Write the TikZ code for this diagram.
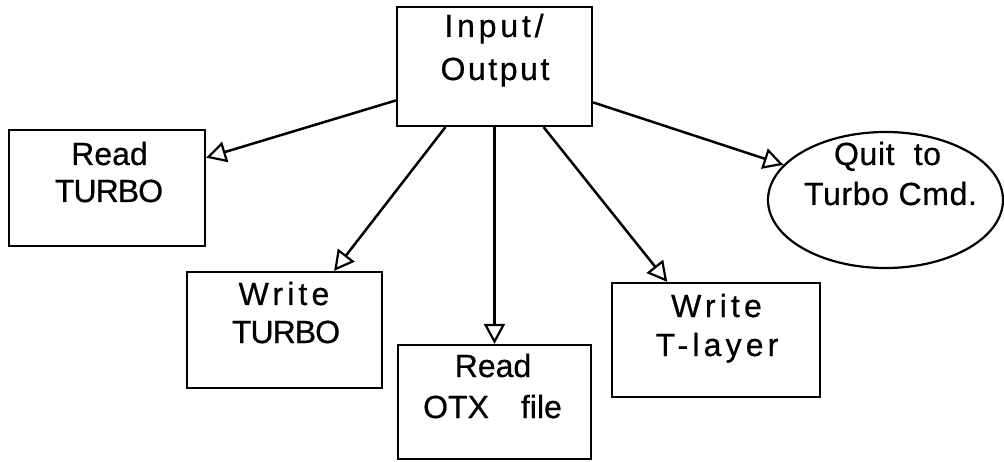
\documentclass[tikz,border=0pt]{standalone}
\usepackage{fontspec}
\setmainfont{Liberation Sans}[FakeBold=0.6]
\usetikzlibrary{arrows.meta,shapes.geometric}

\tikzset{
  box/.style={draw, line width=2.2pt, inner sep=0pt, rectangle},
  oval/.style={draw, line width=2.2pt, inner sep=0pt, ellipse},
  txt/.style={anchor=base, inner sep=0pt, font=\fontsize{32}{38}\selectfont},
  con/.style={line width=2.5pt, -{Triangle[open, length=20pt, width=21pt, line width=2.2pt]}},
}

\begin{document}
\begin{tikzpicture}[x=1pt, y=-1pt]
  \useasboundingbox (0,0) rectangle (1004,462);

  % boxes
  \node[box, minimum width=195pt, minimum height=119pt] (io) at (494.5,66.5) {};
  \node[box, minimum width=196pt, minimum height=116pt] (rt) at (107,188) {};
  \node[box, minimum width=195pt, minimum height=116pt] (wt) at (284.5,330) {};
  \node[box, minimum width=193pt, minimum height=114pt] (ro) at (494.5,402) {};
  \node[box, minimum width=208pt, minimum height=114pt] (wl) at (716,340) {};
  \node[oval, minimum width=235pt, minimum height=136pt] (qt) at (885.5,200) {};

  % labels
  \node[txt] (io1) at (494,37) {\addfontfeature{LetterSpace=12}Input/};
  \node[txt] (io2) at (495,80) {\addfontfeature{LetterSpace=8}Output};

  \node[txt] (rt1) at (109.5,165) {Read};
  \node[txt] (rt2) at (109,202) {\addfontfeature{LetterSpace=-3}TURBO};

  \node[txt] (wt1) at (284,305) {\addfontfeature{LetterSpace=13}Write};
  \node[txt] (wt2) at (286,343) {\addfontfeature{LetterSpace=-3}TURBO};

  \node[txt] (ro1) at (493,377) {Read};
  \node[txt] (ro2) at (492.5,418) {OTX\hspace{1em}file};

  \node[txt] (wl1) at (716.5,317) {\addfontfeature{LetterSpace=13}Write};
  \node[txt] (wl2) at (717,356) {\addfontfeature{LetterSpace=13}T-layer};

  \node[txt] (qt1) at (887.5,165) {\addfontfeature{LetterSpace=2}Quit\ \ to};
  \node[txt] (qt2) at (890.5,205) {\addfontfeature{LetterSpace=2}Turbo Cmd.};

  % connectors
  \draw[con] (io.199) -- (rt.17);
  \draw[con] (io.231) -- (wt.50);
  \draw[con] (io.south) -- (ro.north);
  \draw[con] (io.309) -- (wl.130);
  \draw[con] (io.340.5) -- (qt.161);
\end{tikzpicture}
\end{document}
